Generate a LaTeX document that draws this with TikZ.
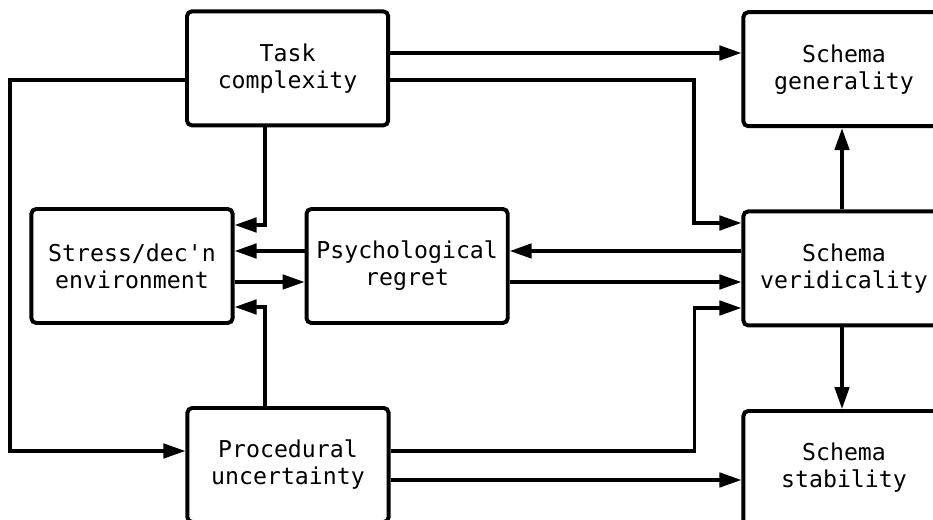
\documentclass[tikz,border=0pt]{standalone}
\usepackage{fontspec}
\setmonofont{DejaVu Sans Mono}
\usepackage{tikz}
\usetikzlibrary{positioning,arrows.meta}

\begin{document}
\begin{tikzpicture}[
  sbox/.style={rectangle,rounded corners=1.2mm,draw=black,fill=white,
               minimum width=5.03cm,minimum height=2.85cm,
               font=\ttfamily\fontsize{16.5}{19.2}\selectfont,
               align=center,line width=2.8pt},
  arr/.style={-{Triangle[length=5.5mm,width=3.6mm]},line width=2.5pt,black},
  >=Stealth
]
\useasboundingbox (0,0) rectangle (23.325,13);
\clip (0,0) rectangle (23.325,13);
% left and middle column
\node[sbox] (task) at (7.19,11.29) {Task\\complexity};
\node[sbox] (stress) at (3.3,6.35) {Stress/dec'n\\environment};
\node[sbox,right=1.75cm of stress] (regret) {Psychological\\regret};
\node[sbox] (proc) at (7.2,1.375) {Procedural\\uncertainty};
% schema column (cut by the right edge)
\node[sbox] (gen) at (21.1,11.27) {Schema\\generality};
\node[sbox] (verid) at (21.1,6.29) {Schema\\veridicality};
\node[sbox] (stab) at (21.1,1.3) {Schema\\stability};
% ports
\coordinate (ta) at ([yshift=3.85mm]task.east);
\coordinate (tb) at ([yshift=-2.9mm]task.east);
\coordinate (tc) at ([yshift=-2.9mm]task.west);
\coordinate (td) at ([xshift=-5.65mm]task.south);
\coordinate (s1) at ([yshift=10.25mm]stress.east);
\coordinate (s2) at ([yshift=3.75mm]stress.east);
\coordinate (s3) at ([yshift=-4mm]stress.east);
\coordinate (s4) at ([yshift=-10.25mm]stress.east);
\coordinate (pw) at ([yshift=3.5mm]proc.west);
\coordinate (pa) at ([yshift=3.5mm]proc.east);
\coordinate (pb) at ([yshift=-3.75mm]proc.east);
\coordinate (pt) at ([xshift=-5.75mm]proc.north);
\coordinate (v1) at ([yshift=11.35mm]verid.west);
\coordinate (v4) at ([yshift=-9.9mm]verid.west);
\coordinate (vt) at ([xshift=-0.5mm]verid.north);
\coordinate (vb) at ([xshift=-0.5mm]verid.south);
% connectors
\draw[arr] (ta)--(ta -| gen.west);
\draw[arr] (tb)--++(7.6,0)|-(v1);
\draw[arr] (tc)--++(-4.375,0)|-(pw);
\draw[arr] (td)|-(s1);
\draw[arr] (s2 -| regret.west)--(s2);
\draw[arr] (s3)--(s3 -| regret.west);
\draw[arr] (pt)|-(s4);
\draw[arr] (s2 -| verid.west)--(s2 -| regret.east);
\draw[arr] (s3 -| regret.east)--(s3 -| verid.west);
\draw[arr] (pa)--++(7.6,0)|-(v4);
\draw[arr] (pb)--(pb -| stab.west);
\draw[arr] (vt)--(vt |- gen.south);
\draw[arr] (vb)--(vb |- stab.north);
\end{tikzpicture}
\end{document}
